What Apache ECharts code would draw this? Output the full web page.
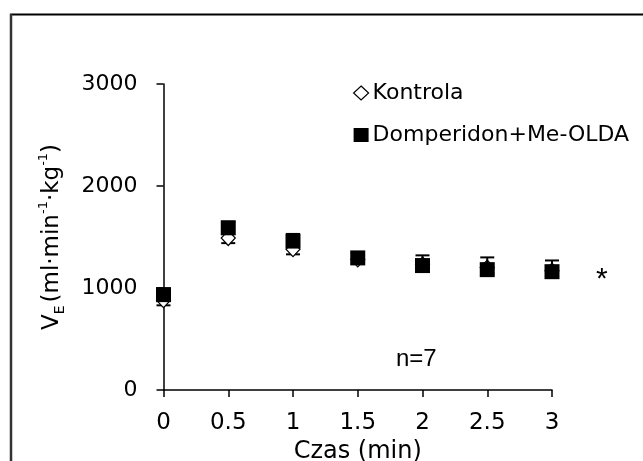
<!DOCTYPE html>
<html>
<head>
<meta charset="utf-8">
<script src="https://cdn.jsdelivr.net/npm/echarts@6/dist/echarts.min.js"></script>
<style>
  html, body { margin: 0; padding: 0; background: #fff; }
  #chart { width: 643px; height: 461px; }
</style>
</head>
<body>
<div id="chart"></div>
<script>
// czas (min)
var times = [0, 0.5, 1, 1.5, 2, 2.5, 3];
// VE, grupa kontrolna
var kontrola = [880, 1490, 1380, 1280, 1230, 1200, 1170];
var kontrolaSE = [50, 50, 50, 40, 40, 60, 60];
// VE, domperidon + Me-OLDA
var domperidon = [935, 1590, 1460, 1295, 1220, 1180, 1160];
var domperidonSE = [60, 60, 70, 50, 100, 120, 110];

var font = 'DejaVu Sans, sans-serif';
var font2 = 'Liberation Sans, Arial, sans-serif';

function pts(vals) {
    return times.map(function (t, i) { return [t, vals[i]]; });
}
function errs(vals, se, dir) {
    return times.map(function (t, i) { return [t, vals[i], se[i] * dir]; });
}

// slupek bledu (jednostronny)
function errorBar(params, api) {
    var x = api.value(0), y = api.value(1), e = api.value(2);
    var p0 = api.coord([x, y]);
    var p1 = api.coord([x, y + e]);
    var w = 7;
    var st = { stroke: '#000', lineWidth: 2 };
    return {
        type: 'group',
        children: [
            { type: 'line', shape: { x1: p0[0], y1: p0[1], x2: p1[0], y2: p1[1] }, style: st },
            { type: 'line', shape: { x1: p1[0] - w, y1: p1[1], x2: p1[0] + w, y2: p1[1] }, style: st }
        ]
    };
}

var mychart = echarts.init(document.getElementById('chart'));
var option = {
    animation: false,
    backgroundColor: '#fff',
    textStyle: { fontFamily: font, color: '#000' },
    grid: { left: 163.5, right: 91, top: 84, bottom: 71, containLabel: false, outerBoundsMode: 'none' },
    legend: {
        orient: 'vertical',
        left: 348,
        top: 77,
        itemGap: 20,
        itemWidth: 15,
        itemHeight: 14,
        textStyle: { fontFamily: font, fontSize: 22, color: '#000', padding: [0, 0, 0, -1] },
        data: [
            { name: 'Kontrola', icon: 'diamond', itemStyle: { color: '#fff', borderColor: '#000', borderWidth: 1.2, opacity: 1 } },
            { name: 'Domperidon+Me-OLDA', icon: 'rect', itemStyle: { color: '#000', borderWidth: 0, opacity: 1 } }
        ]
    },
    xAxis: {
        type: 'value',
        min: 0,
        max: 3,
        interval: 0.5,
        name: 'Czas (min)',
        nameLocation: 'middle',
        nameGap: 50,
        nameTextStyle: { fontFamily: font, fontSize: 24, color: '#000' },
        axisLine: { lineStyle: { color: '#000', width: 1.5 } },
        axisTick: { length: 7, lineStyle: { color: '#000', width: 1.5 } },
        axisLabel: { fontFamily: font, fontSize: 23, color: '#000', margin: 22 },
        splitLine: { show: false }
    },
    yAxis: {
        type: 'value',
        min: 0,
        max: 3000,
        interval: 1000,
        name: '{v|V}{sub|E}{v|(ml·min}{sup|-1}{v|·kg}{sup|-1}{v|)}',
        nameLocation: 'middle',
        nameGap: 96,
        nameTextStyle: {
            rich: {
                v: { fontFamily: font, fontSize: 23, color: '#000', lineHeight: 30, verticalAlign: 'middle' },
                sub: { fontFamily: font, fontSize: 14, color: '#000', lineHeight: 30, verticalAlign: 'bottom', padding: [0, 3, 0, 0] },
                sup: { fontFamily: font, fontSize: 13, color: '#000', lineHeight: 30, verticalAlign: 'top' }
            }
        },
        axisLine: { show: true, lineStyle: { color: '#000', width: 1.5 } },
        axisTick: { show: true, length: 7, lineStyle: { color: '#000', width: 1.5 } },
        axisLabel: { fontFamily: font, fontSize: 22, color: '#000', margin: 26, formatter: function (v) { return String(v); } },
        splitLine: { show: false }
    },
    graphic: [
        { type: 'line', shape: { x1: 10, y1: 14.5, x2: 643, y2: 14.5 }, style: { stroke: '#000', lineWidth: 2 } },
        { type: 'line', shape: { x1: 11, y1: 14, x2: 11, y2: 461 }, style: { stroke: '#333', lineWidth: 2.5 } },
        { type: 'text', left: 396, top: 347, style: { text: 'n=7', font: '24px ' + font2, fill: '#000' } },
        { type: 'text', left: 596, top: 265, style: { text: '*', font: '30px ' + font2, fill: '#000' } }
    ],
    series: [
        {
            name: 'Kontrola-err',
            type: 'custom',
            renderItem: errorBar,
            data: errs(kontrola, kontrolaSE, -1),
            z: 1
        },
        {
            name: 'Kontrola',
            type: 'scatter',
            symbol: 'diamond',
            symbolSize: [14, 15],
            itemStyle: { color: '#fff', borderColor: '#000', borderWidth: 1.2, opacity: 1 },
            data: pts(kontrola),
            z: 2
        },
        {
            name: 'Domperidon-err',
            type: 'custom',
            renderItem: errorBar,
            data: errs(domperidon, domperidonSE, 1),
            z: 3
        },
        {
            name: 'Domperidon+Me-OLDA',
            type: 'scatter',
            symbol: 'rect',
            symbolSize: 15,
            itemStyle: { color: '#000', opacity: 1 },
            data: pts(domperidon),
            z: 4
        }
    ]
};
mychart.setOption(option);
</script>
</body>
</html>
